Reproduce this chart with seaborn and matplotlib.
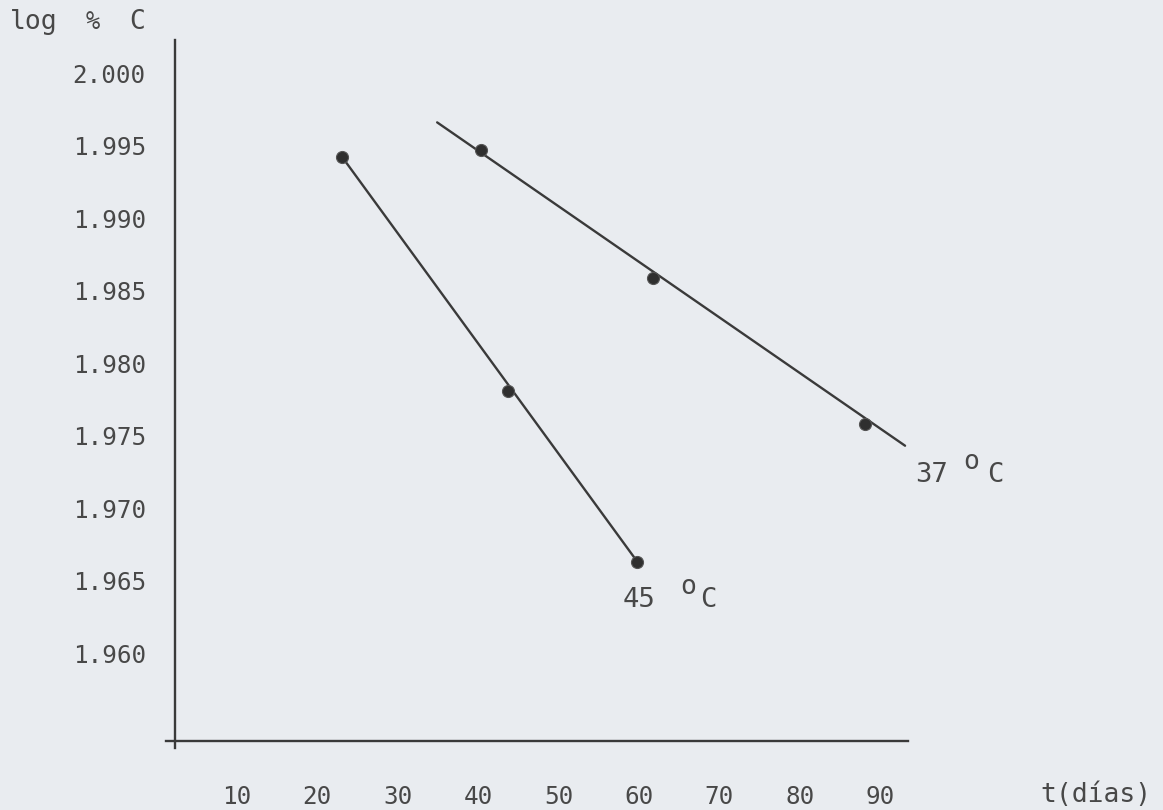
"""
plot.py

Recreate the typewritten log % C vs. time chart (37 and 45 oC).
"""

import matplotlib.pyplot as plt
import pandas as pd
import seaborn as sns

# measured points
t_45 = [23.1, 43.7, 59.8]
logc_45 = [1.9942, 1.9781, 1.9663]
t_37 = [40.3, 61.7, 88.1]
logc_37 = [1.9947, 1.9859, 1.9758]

# fitted straight lines (end points)
fit_t_45 = [23.1, 59.8]
fit_logc_45 = [1.9942, 1.9663]
fit_t_37 = [34.9, 93.1]
fit_logc_37 = [1.9966, 1.9743]

x_ticks = [10, 20, 30, 40, 50, 60, 70, 80, 90]
y_ticks = [1.960, 1.965, 1.970, 1.975, 1.980, 1.985, 1.990, 1.995, 2.000]

BG = "#e9ecf0"
INK = "#3a3a3a"
TXT = "#484848"
FONT = ["DejaVu Sans Mono", "DejaVu Sans"]
W, H = 1163, 810


def px(x, y):
    """pixel position (from top-left) -> figure fraction"""
    return x / W, 1 - y / H


def main():
    sns.set_theme(style="white")
    plt.rcParams["font.family"] = FONT

    fig = plt.figure(figsize=(11.63, 8.10), dpi=100, facecolor=BG)
    ax = fig.add_axes([0.1427, 0.0765, 0.638, 0.8741])
    ax.set_facecolor(BG)

    pts = pd.concat([
        pd.DataFrame({"t": t_45, "logc": logc_45, "T": "45"}),
        pd.DataFrame({"t": t_37, "logc": logc_37, "T": "37"}),
    ])
    fits = pd.concat([
        pd.DataFrame({"t": fit_t_45, "logc": fit_logc_45, "T": "45"}),
        pd.DataFrame({"t": fit_t_37, "logc": fit_logc_37, "T": "37"}),
    ])

    sns.lineplot(data=fits, x="t", y="logc", units="T", estimator=None,
                 color=INK, linewidth=1.7, ax=ax)
    sns.scatterplot(data=pts, x="t", y="logc", color="#2f2f2f", s=75,
                    edgecolor="#555555", linewidth=0.8, zorder=3, ax=ax)

    ax.set_xlim(1.17, 93.46)
    ax.set_ylim(1.95345, 2.00228)

    for side in ["top", "right"]:
        ax.spines[side].set_visible(False)
    ax.spines["left"].set_position(("data", 2.29))
    ax.spines["bottom"].set_position(("data", 1.95394))
    for side in ["left", "bottom"]:
        ax.spines[side].set_color(INK)
        ax.spines[side].set_linewidth(1.7)

    ax.set_xticks(x_ticks)
    ax.set_xticklabels([str(v) for v in x_ticks])
    ax.set_yticks(y_ticks)
    ax.set_yticklabels([f"{v:.3f}" for v in y_ticks])
    ax.tick_params(axis="x", length=0, pad=32, labelsize=17.5, labelcolor=TXT)
    ax.tick_params(axis="y", length=0, pad=21, labelsize=17.5, labelcolor=TXT)
    ax.set_xlabel("")
    ax.set_ylabel("")

    # y-axis title, typed with wide spacing
    fig.text(*px(10, 22), "log", fontsize=19, color=TXT, ha="left", va="center")
    fig.text(*px(93, 22), "%", fontsize=17, color=TXT, ha="center", va="center")
    fig.text(*px(137, 22), "C", fontsize=19, color=TXT, ha="center", va="center")

    fig.text(*px(1040, 795), "t(días)", fontsize=19, color=TXT,
             ha="left", va="center")

    # temperature labels with raised "o"
    for x_num, x_o, x_c, y0, num in [(915, 963, 987, 475, "37"),
                                     (623, 680, 700, 600, "45")]:
        fig.text(*px(x_num, y0), num, fontsize=19.5, color=TXT,
                 ha="left", va="center")
        fig.text(*px(x_o, y0 - 13), "o", fontsize=19, color=TXT,
                 ha="left", va="center")
        fig.text(*px(x_c, y0), "C", fontsize=19.5, color=TXT,
                 ha="left", va="center")

    fig.savefig("out.png", dpi=100, facecolor=BG)


if __name__ == "__main__":
    main()
